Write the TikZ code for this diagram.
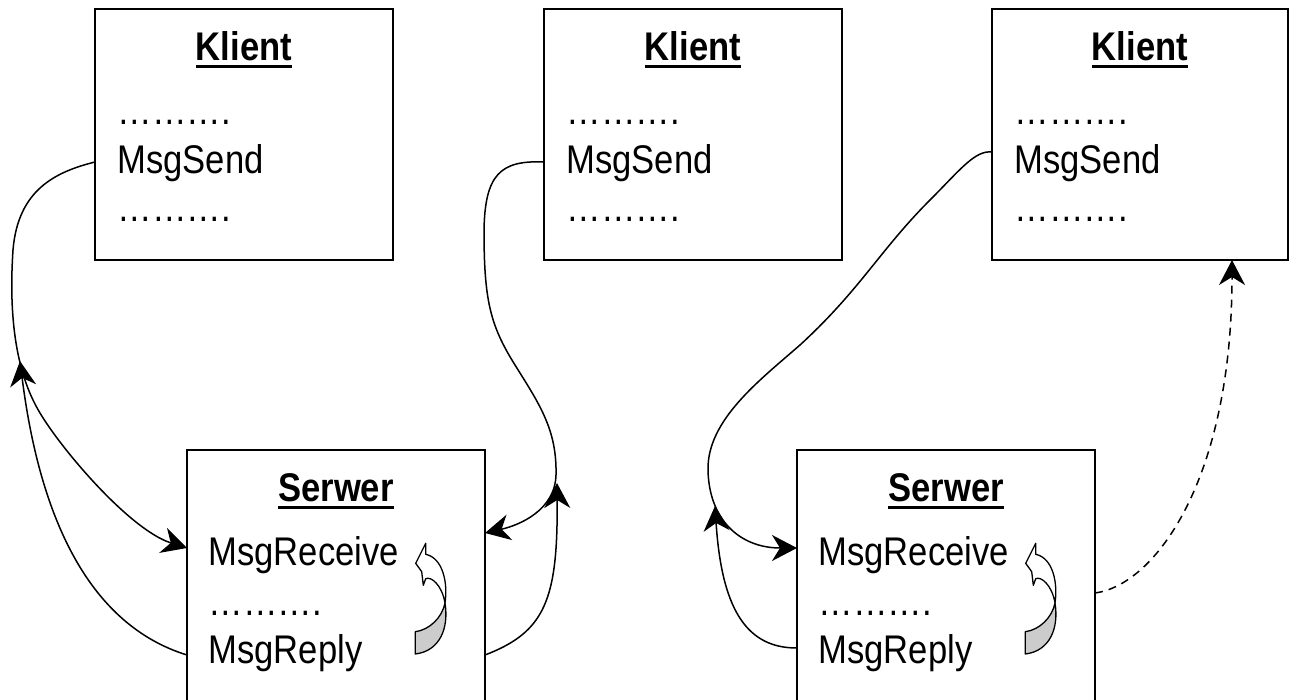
\documentclass[tikz,border=0pt]{standalone}
\usepackage{fontspec}
\setmainfont{Liberation Sans}[FakeStretch=0.865]
\usetikzlibrary{arrows.meta}

\tikzset{
  box/.style={draw, line width=1.8pt, inner sep=0pt, outer sep=0pt},
  heading/.style={font=\fontsize{40}{46}\selectfont\bfseries, inner sep=0pt, outer sep=0pt, anchor=base},
  entry/.style={font=\fontsize{40}{46}\selectfont, inner sep=0pt, outer sep=0pt, anchor=base west},
  uline/.style={line width=3pt},
  wire/.style={line width=1.5pt},
  link/.style={wire, -{Stealth[length=25pt,width=26pt,inset=8pt]}},
  reply/.style={link, dash pattern=on 8pt off 6pt},
  turnarrow/.pic={
    % front face of the curved block arrow, head pointing up
    \path[draw, line width=1.3pt, fill=white, line join=round]
      (10.7,0.3) -- (0.7,20.3) -- (6.7,28.7) -- (8.3,42.3) -- (10.7,35.7)
      .. controls (16,33) and (27,42) .. (30,60)
      .. controls (33,40) and (28,15) .. (10.7,11.3) -- cycle;
    % back face of the tail
    \path[draw, line width=1.3pt, fill=black!20, line join=round]
      (0.3,88.7) .. controls (14,87) and (27,75) .. (30,60)
      .. controls (34,85) and (25,108) .. (0.3,111) -- cycle;
  }
}

\begin{document}
\begin{tikzpicture}[x=1pt, y=-1pt]
\path[use as bounding box, clip] (0,0) rectangle (1289,700);

% client boxes
\node[box, minimum width=298pt, minimum height=251pt] (k1) at (244,134.5) {};
\node[box, minimum width=298pt, minimum height=251pt] (k2) at (693,134.5) {};
\node[box, minimum width=296pt, minimum height=251pt] (k3) at (1140,134.5) {};

% server boxes (running off the lower edge)
\node[box, minimum width=298pt, minimum height=260pt] (s1) at (336,580) {};
\node[box, minimum width=298pt, minimum height=260pt] (s2) at (946,580) {};

% client texts
\foreach \k in {k1,k2,k3}{
  \node[heading] (\k-title) at ([shift={(0,51.5)}]\k.north) {Klient};
  \draw[uline] ([yshift=-6pt]\k-title.base west) -- ([yshift=-6pt]\k-title.base east);
  \node[entry] (\k-dotsa) at ([shift={(22.5,115.5)}]\k.north west) {……….};
  \node[entry] (\k-send)  at ([shift={(22.5,165)}]\k.north west) {MsgSend};
  \node[entry] (\k-dotsb) at ([shift={(22.5,213)}]\k.north west) {……….};
}

% server texts
\foreach \s in {s1,s2}{
  \node[heading] (\s-title) at ([shift={(0,51.5)}]\s.north) {Serwer};
  \draw[uline] ([yshift=-6pt]\s-title.base west) -- ([yshift=-6pt]\s-title.base east);
  \node[entry] (\s-recv)  at ([shift={(21.5,115.5)}]\s.north west) {MsgReceive};
  \node[entry] (\s-dots)  at ([shift={(21.5,165)}]\s.north west) {……….};
  \node[entry] (\s-reply) at ([shift={(21.5,213)}]\s.north west) {MsgReply};
  \pic (\s-turn) at ([shift={(228,93)}]\s.north west) {turnarrow};
}

% connector end points on the box edges
\coordinate (k1-out) at ([shift={(0,153)}]k1.north west);
\coordinate (k2-out) at ([shift={(0,153)}]k2.north west);
\coordinate (k3-out) at ([shift={(0,143)}]k3.north west);
\coordinate (k3-in)  at ([shift={(240,0)}]k3.south west);
\coordinate (s1-win)  at ([shift={(0,98)}]s1.north west);
\coordinate (s1-wout) at ([shift={(0,205)}]s1.north west);
\coordinate (s1-ein)  at ([shift={(0,83)}]s1.north east);
\coordinate (s1-eout) at ([shift={(0,205)}]s1.north east);
\coordinate (s2-win)  at ([shift={(0,98)}]s2.north west);
\coordinate (s2-wout) at ([shift={(0,198)}]s2.north west);
\coordinate (s2-eout) at ([shift={(0,143)}]s2.north east);
% free ends of the reply arrows
\coordinate (b-tip) at (20,361);
\coordinate (d-tip) at (557,483);
\coordinate (f-tip) at (715,506);

% first client: send and reply
\draw[link] (k1-out) .. controls (55,172) and (18,190) .. (13,250)
  .. controls (9,310) and (14,370) .. (40,413)
  .. controls (62,450) and (130,530) .. (s1-win);
\draw[link] (s1-wout) .. controls (90,625) and (40,520) .. (b-tip);

% second client: send and reply
\draw[link] (k2-out) .. controls (500,160) and (485,175) .. (484,230)
  .. controls (484,300) and (490,325) .. (515,365)
  .. controls (540,405) and (557,430) .. (556,475)
  .. controls (555,510) and (520,525) .. (s1-ein);
\draw[link] (s1-eout) .. controls (545,632) and (558,600) .. (d-tip);

% third client: send, reply and the dashed return
\draw[link] (k3-out) .. controls (975,150) and (960,170) .. (930,200)
  .. controls (880,250) and (860,290) .. (800,345)
  .. controls (760,380) and (707,420) .. (708,470)
  .. controls (709,520) and (740,548) .. (s2-win);
\draw[link] (s2-wout) .. controls (750,648) and (722,615) .. (f-tip);
\draw[reply] (s2-eout) .. controls (1155,585) and (1232,480) .. (k3-in);
\end{tikzpicture}
\end{document}
